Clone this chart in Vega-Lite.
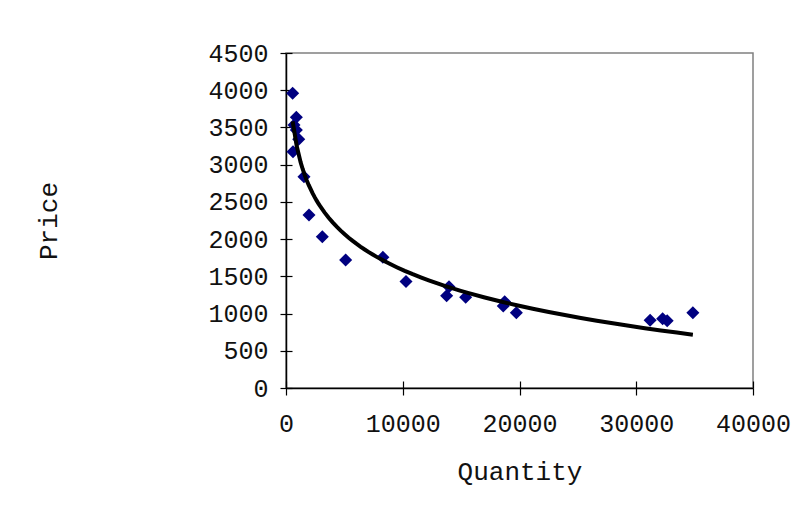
{
  "$schema": "https://vega.github.io/schema/vega-lite/v6.json",
  "autosize": "none",
  "width": 467,
  "height": 335,
  "padding": {"left": 286, "top": 53, "right": 50, "bottom": 118},
  "background": "white",
  "config": {
    "view": {"stroke": "#808080", "strokeWidth": 1.5},
    "font": "Liberation Mono",
    "axis": {
      "grid": false,
      "domainColor": "black",
      "domainWidth": 1.5,
      "tickColor": "black",
      "tickWidth": 1.2,
      "labelColor": "#111111",
      "titleColor": "#111111",
      "labelFont": "Liberation Mono",
      "titleFont": "Liberation Mono",
      "labelFontSize": 25,
      "titleFontSize": 26,
      "titleFontWeight": "normal",
      "labelOverlap": false,
      "labelBound": false,
      "labelFlush": false
    }
  },
  "data": {
    "values": [
      {"Quantity": 570, "Price": 3960},
      {"Quantity": 885, "Price": 3636},
      {"Quantity": 685, "Price": 3533},
      {"Quantity": 885, "Price": 3466},
      {"Quantity": 1090, "Price": 3341},
      {"Quantity": 600, "Price": 3174},
      {"Quantity": 1540, "Price": 2838},
      {"Quantity": 1970, "Price": 2324},
      {"Quantity": 3110, "Price": 2033},
      {"Quantity": 5110, "Price": 1720},
      {"Quantity": 8300, "Price": 1755},
      {"Quantity": 10280, "Price": 1430},
      {"Quantity": 13960, "Price": 1361},
      {"Quantity": 13760, "Price": 1240},
      {"Quantity": 15390, "Price": 1218},
      {"Quantity": 18730, "Price": 1160},
      {"Quantity": 18610, "Price": 1102},
      {"Quantity": 19730, "Price": 1012},
      {"Quantity": 31190, "Price": 911},
      {"Quantity": 32260, "Price": 930},
      {"Quantity": 32650, "Price": 902},
      {"Quantity": 34850, "Price": 1010}
    ]
  },
  "layer": [
    {
      "mark": {"type": "point", "shape": "diamond", "filled": true, "color": "#000080", "opacity": 1, "size": 170, "strokeWidth": 0},
      "encoding": {
        "x": {
          "field": "Quantity", "type": "quantitative",
          "scale": {"domain": [0, 40000], "nice": false},
          "axis": {"orient": "bottom", "values": [0, 10000, 20000, 30000, 40000], "format": "d", "tickSize": 7, "labelPadding": 16, "title": "Quantity", "titlePadding": 22}
        },
        "y": {
          "field": "Price", "type": "quantitative",
          "scale": {"domain": [0, 4500], "nice": false},
          "axis": {"orient": "left", "values": [0, 500, 1000, 1500, 2000, 2500, 3000, 3500, 4000, 4500], "format": "d", "tickSize": 6, "labelPadding": 12, "title": "Price", "titlePadding": 146}
        }
      }
    },
    {
      "transform": [{"regression": "Price", "on": "Quantity", "method": "log"}],
      "mark": {"type": "line", "color": "black", "strokeWidth": 4},
      "encoding": {
        "x": {
          "field": "Quantity", "type": "quantitative",
          "axis": {"orient": "bottom", "values": [0, 10000, 20000, 30000, 40000], "tickSize": 7, "offset": -7, "labels": false, "domain": false, "title": null}
        },
        "y": {
          "field": "Price", "type": "quantitative",
          "axis": {"orient": "left", "values": [0, 500, 1000, 1500, 2000, 2500, 3000, 3500, 4000, 4500], "tickSize": 6, "offset": -6, "labels": false, "domain": false, "title": null}
        }
      }
    }
  ],
  "resolve": {"axis": {"x": "independent", "y": "independent"}}
}
